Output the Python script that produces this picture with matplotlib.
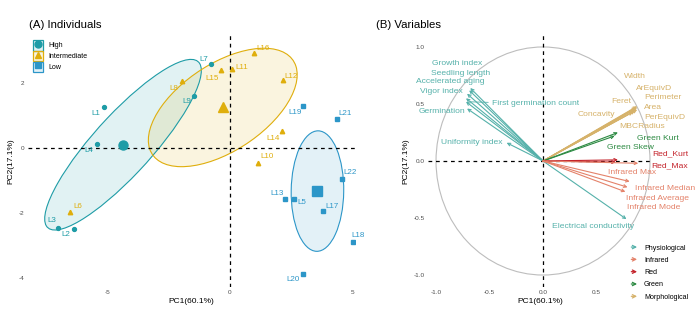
import numpy as np
import matplotlib.pyplot as plt
from matplotlib.patches import Ellipse, Circle, Patch, FancyArrowPatch
from matplotlib.lines import Line2D
from matplotlib.legend_handler import HandlerBase

plt.rcParams["font.family"] = ["Liberation Sans", "DejaVu Sans"]
plt.rcParams["axes.unicode_minus"] = False

# ---- (A) individuals: PCA scores
ind_names = ["L1", "L2", "L3", "L4", "L5", "L6", "L7", "L8", "L9", "L10", "L11",
             "L12", "L13", "L14", "L15", "L16", "L17", "L18", "L19", "L20", "L21", "L22"]
ind_pc1 = [-5.16, -6.40, -7.05, -5.45, 2.60, -6.56, -0.78, -1.97, -1.48, 1.15, 0.08,
           2.17, 2.25, 2.13, -0.37, 0.98, 3.80, 5.03, 3.00, 3.00, 4.38, 4.59]
ind_pc2 = [1.26, -2.49, -2.46, 0.12, -1.57, -1.97, 2.58, 2.06, 1.60, -0.46, 2.43,
           2.09, -1.57, 0.52, 2.40, 2.92, -1.94, -2.89, 1.30, -3.88, 0.89, -0.95]
ind_group = ["High", "High", "High", "High", "Low", "Intermediate", "High", "Intermediate",
             "High", "Intermediate", "Intermediate", "Intermediate", "Low", "Intermediate",
             "Intermediate", "Intermediate", "Low", "Low", "Low", "Low", "Low", "Low"]
groups = ["High", "Intermediate", "Low"]

# ---- (B) variables: loadings
var_names = ["Growth index", "Seedling length", "Accelerated aging", "Vigor index",
             "First germination count", "Germination", "Uniformity index",
             "Electrical conductivity",
             "Width", "ArEquivD", "Perimeter", "Area", "PerEquivD", "Feret", "Concavity",
             "MBCRadius",
             "Green Kurt", "Green Skew", "Red_Kurt", "Red_Max",
             "Infrared Max", "Infrared Median", "Infrared Average", "Infrared Mode"]
var_pc1 = [-0.68, -0.69, -0.71, -0.72, -0.72, -0.71, -0.34, 0.78,
           0.88, 0.88, 0.87, 0.88, 0.86, 0.87, 0.85, 0.84,
           0.70, 0.67, 0.70, 0.68,
           0.89, 0.81, 0.79, 0.77]
var_pc2 = [0.64, 0.62, 0.59, 0.55, 0.52, 0.46, 0.16, -0.51,
           0.48, 0.47, 0.46, 0.45, 0.44, 0.47, 0.45, 0.43,
           0.25, 0.22, 0.01, -0.01,
           -0.02, -0.18, -0.23, -0.27]
var_type = ["Physiological"] * 8 + ["Morphological"] * 8 + ["Green"] * 2 + ["Red"] * 2 + ["Infrared"] * 4
var_types = ["Physiological", "Infrared", "Red", "Green", "Morphological"]

# ---- styling
grp_color = {"High": "#1E9CA6", "Intermediate": "#DFAE0C", "Low": "#2C96C8"}
grp_marker = {"High": "o", "Intermediate": "^", "Low": "s"}
type_color = {"Physiological": "#55B1AA", "Infrared": "#E4826A", "Red": "#C4232B",
              "Green": "#2C8A42", "Morphological": "#D6B26A"}

# label offsets in pixels (right, down) relative to the mark
ind_off = [(-8, 6), (-8, 6), (-6, -7), (-8, 6), (8, 4), (8, -5), (-7, -5), (-8, 7), (-7, 5),
           (9, -6), (10, -2), (8, -4), (-8, -5), (-9, 7), (-9, 8), (9, -5), (9, -5), (5, -6),
           (-8, 7), (-10, 5), (8, -6), (8, -6)]
var_off = [(-13, -25), (-9, -17), (-17, -12), (-25, -7), (70, 2), (-25, 3), (-35, 0), (-33, 7),
           (-2, -30), (17, -19), (27, -11), (16, -2), (30, 7), (-15, -6), (-38, 5), (9, 15),
           (40, 6), (16, 12), (52, -6), (54, 4),
           (-6, 9), (35, 7), (30, 11), (28, 16)]

W, H = 700, 309
fig = plt.figure(figsize=(W / 100, H / 100), dpi=100)


def px_axes(x0, y0, x1, y1):
    return fig.add_axes([x0 / W, 1 - y1 / H, (x1 - x0) / W, (y1 - y0) / H])


def clean(ax):
    for s in ax.spines.values():
        s.set_visible(False)
    ax.tick_params(length=0, labelsize=4.6, colors="#4D4D4D", pad=2.5)


axA = px_axes(28, 35, 355, 287)
axB = px_axes(428, 35, 653, 287)
clean(axA)
clean(axB)

# ---------------- panel A
x = np.array(ind_pc1)
y = np.array(ind_pc2)
g = np.array(ind_group)
for grp in groups:
    m = g == grp
    c = grp_color[grp]
    gx, gy = x[m], y[m]
    vals, vecs = np.linalg.eigh(np.cov(gx, gy))
    order = vals.argsort()[::-1]
    vals, vecs = vals[order], vecs[:, order]
    k = 3 / np.sqrt(m.sum())
    ang = np.degrees(np.arctan2(vecs[1, 0], vecs[0, 0]))
    axA.add_patch(Ellipse((gx.mean(), gy.mean()), 2 * k * np.sqrt(vals[0]),
                          2 * k * np.sqrt(vals[1]), angle=ang,
                          facecolor=c, alpha=0.13, edgecolor="none", zorder=1))
    axA.add_patch(Ellipse((gx.mean(), gy.mean()), 2 * k * np.sqrt(vals[0]),
                          2 * k * np.sqrt(vals[1]), angle=ang,
                          facecolor="none", edgecolor=c, lw=0.8, zorder=1.5))
    ms = 3.2 if grp == "Intermediate" else 2.8
    axA.plot(gx, gy, ls="none", marker=grp_marker[grp], color=c, ms=ms, zorder=3)
    axA.plot(gx.mean(), gy.mean(), ls="none", marker=grp_marker[grp], color=c,
             ms=7.5 if grp == "Intermediate" else 6.5, zorder=3)

axA.axhline(0, color="black", ls=(0, (3, 3)), lw=0.9, zorder=2)
axA.axvline(0, color="black", ls=(0, (3, 3)), lw=0.9, zorder=2)

for name, px, py, grp, (dx, dy) in zip(ind_names, ind_pc1, ind_pc2, ind_group, ind_off):
    axA.annotate(name, xy=(px, py), xytext=(dx * 0.72, -dy * 0.72), textcoords="offset points",
                 ha="center", va="center", fontsize=5.8, color=grp_color[grp],
                 annotation_clip=False, zorder=4)

axA.set_xlim(-8.28, 5.12)
axA.set_ylim(-4.28, 3.48)
axA.set_xticks([-5, 0, 5])
axA.set_yticks([-4, -2, 0, 2])
axA.set_xlabel("PC1(60.1%)", fontsize=6, labelpad=2)
axA.set_ylabel("PC2(17.1%)", fontsize=6, labelpad=3)

handlesA = [(Patch(facecolor=grp_color[gr] + "22", edgecolor=grp_color[gr], lw=0.9),
             Line2D([], [], ls="none", marker=grp_marker[gr], color=grp_color[gr], ms=5))
            for gr in groups]
axA.legend(handlesA, groups, loc="upper left", bbox_to_anchor=(5 / 327, 1 - 5 / 252),
           fontsize=5, frameon=False, handlelength=1.45, handleheight=1.95,
           labelspacing=0.05, handletextpad=0.8, borderaxespad=0, borderpad=0)

# ---------------- panel B
axB.add_patch(Circle((0, 0), 1, fill=False, ec="#BDBDBD", lw=0.8, zorder=1))
axB.axhline(0, color="black", ls=(0, (3, 3)), lw=0.9, zorder=2)
axB.axvline(0, color="black", ls=(0, (3, 3)), lw=0.9, zorder=2)

for name, vx, vy, t, (dx, dy) in zip(var_names, var_pc1, var_pc2, var_type, var_off):
    c = type_color[t]
    axB.annotate("", xy=(vx, vy), xytext=(0, 0),
                 arrowprops=dict(arrowstyle="->", color=c, lw=0.8, shrinkA=0, shrinkB=0,
                                 mutation_scale=5), zorder=3)
    props = None
    if name == "First germination count":
        props = dict(arrowstyle="-", color=c, lw=0.6, shrinkA=1, shrinkB=3)
    axB.annotate(name, xy=(vx, vy), xytext=(dx * 0.72, -dy * 0.72), textcoords="offset points",
                 ha="center", va="center", fontsize=6.1, color=c, arrowprops=props,
                 annotation_clip=False, zorder=4)

axB.set_xlim(-1.075, 1.028)
axB.set_ylim(-1.105, 1.105)
axB.set_xticks([-1.0, -0.5, 0.0, 0.5])
axB.set_yticks([-1.0, -0.5, 0.0, 0.5, 1.0])
axB.xaxis.set_major_formatter("{x:.1f}")
axB.yaxis.set_major_formatter("{x:.1f}")
axB.set_xlabel("PC1(60.1%)", fontsize=6, labelpad=2)
axB.set_ylabel("PC2(17.1%)", fontsize=6, labelpad=3)


class ArrowHandler(HandlerBase):
    def create_artists(self, legend, orig_handle, xdescent, ydescent, width, height,
                       fontsize, trans):
        yc = height / 2 - ydescent
        a = FancyArrowPatch((-xdescent, yc), (width - xdescent, yc), arrowstyle="->",
                            mutation_scale=6, color=orig_handle.get_color(), lw=0.9,
                            transform=trans)
        return [a]


handlesB = [Line2D([], [], color=type_color[t]) for t in var_types]
axB.legend(handlesB, var_types, loc="upper left", bbox_to_anchor=(625 / W, 1 - 241 / H),
           bbox_transform=fig.transFigure, fontsize=5.1, frameon=False,
           handlelength=1.6, labelspacing=0.75, handletextpad=0.6, borderpad=0,
           handler_map={Line2D: ArrowHandler()})

fig.text(29 / W, 1 - 25 / H, "(A) Individuals", fontsize=8.2, va="center")
fig.text(376 / W, 1 - 25 / H, "(B) Variables", fontsize=8.2, va="center")

fig.savefig("out.png", dpi=100)
